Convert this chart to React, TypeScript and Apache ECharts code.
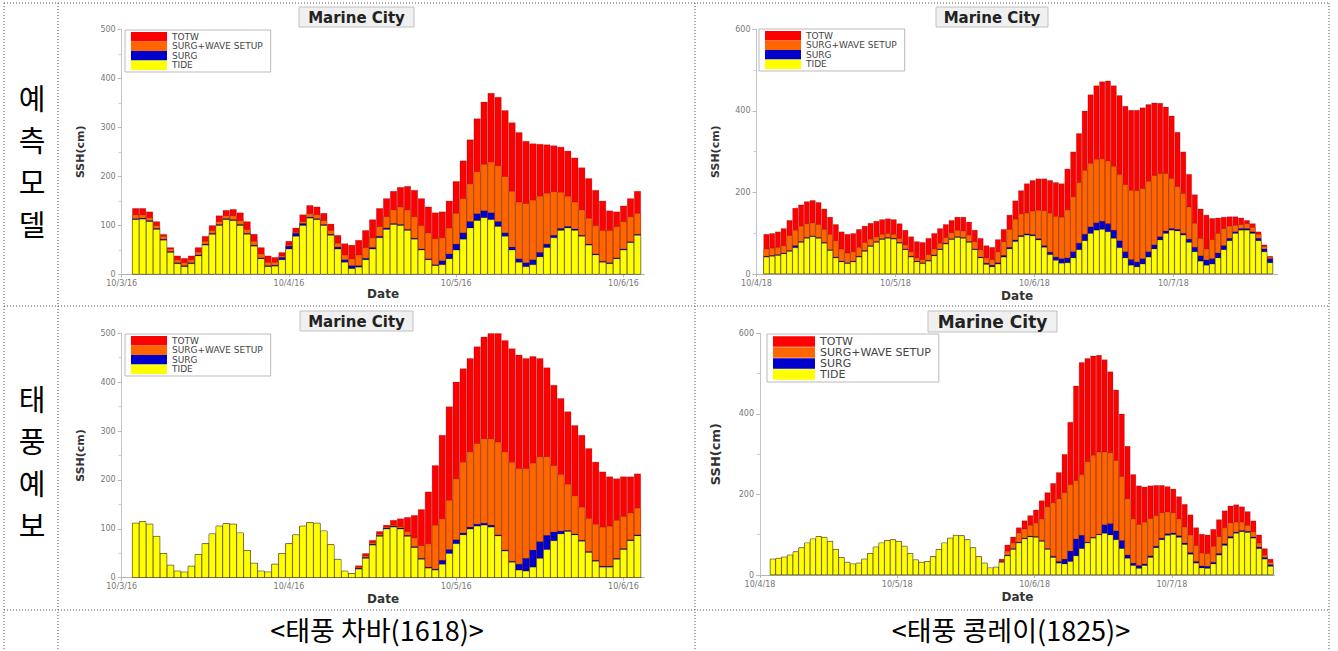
import { useEffect, useRef } from "react";
import * as echarts from "echarts";

const SERIES_NAMES = ["TOTW", "SURG+WAVE SETUP", "SURG", "TIDE"];
const SERIES_COLORS = ["#ff0000", "#ff6600", "#0000cc", "#ffff00"];

const DATES_CHABA = ["10/3/16", "10/4/16", "10/5/16", "10/6/16"];
const DATES_KONGREY = ["10/4/18", "10/5/18", "10/6/18", "10/7/18"];

const ROW_LABELS = ["예\n측\n모\n델", "태\n풍\n예\n보"];
const COL_LABELS = ["<태풍 차바(1618)>", "<태풍 콩레이(1825)>"];
const CHART_TITLE = "Marine City";
const Y_NAME = "SSH(cm)";
const X_NAME = "Date";

// ---- 예측모델 / 차바 (top-left), hourly bars ----
const chabaModelTide = [112,113,108,92,70,45,22,16,22,38, 60,82,100,112,110,100,82,58,32,16, 17,30,52,78,100,115,112,100,80,52, 25,12,15,30,52,75,92,102,100,90, 72,50,30,18,20,32,50,72,95,110, 116,112,98,78,50,25,16,20,36,55, 75,90,95,90,78,60,40,25,22,32, 50,65,80];
const chabaModelSurg = [114,115,110,94,72,47,24,18,24,40, 62,84,102,114,112,102,84,60,34,18, 19,35,58,84,104,117,114,102,82,56, 30,18,18,33,55,78,95,104,102,92, 74,52,32,20,28,42,62,85,108,124, 130,126,108,85,56,32,24,30,45,62, 80,94,98,93,80,62,42,27,24,34, 52,67,82];
const chabaModelSetup = [122,122,116,100,78,52,30,24,30,46, 68,90,108,120,120,110,92,68,42,25, 25,38,60,86,108,124,122,110,90,64, 40,32,40,55,75,98,118,132,138,132, 118,100,85,73,75,95,125,155,185,210, 225,230,222,200,170,148,145,152,160,166, 169,168,160,148,132,115,100,90,90,98, 108,118,125];
const chabaModelTotw = [135,135,128,108,82,55,38,33,38,55, 78,100,120,131,133,126,108,82,55,38, 35,45,68,95,122,141,138,125,103,80, 63,60,70,90,112,135,155,170,178,180, 172,155,138,126,128,150,190,232,275,318, 352,370,362,335,310,290,272,267,266,265, 263,260,252,238,218,196,172,150,130,128, 140,155,170];

// ---- 예측모델 / 콩레이 (top-right) ----
const kongreyModelTide = [42,44,46,50,56,65,78,88,92,88, 76,58,40,30,26,30,42,56,68,78, 85,88,86,76,60,42,30,26,32,45, 60,74,85,90,88,78,60,40,24,18, 25,42,62,80,92,96,94,84,66,48, 34,27,28,40,60,82,100,108,110,104, 88,65,40,22,18,25,42,62,84,100, 108,106,96,78,55,32,22,25,40,60, 82,100,108,108,100,82,55,28];
const kongreyModelSurg = [44,46,48,52,58,70,80,90,94,90, 78,60,42,32,28,32,44,58,70,80, 87,90,88,78,62,44,32,28,34,47, 62,76,87,92,90,80,62,42,27,22, 28,46,66,84,95,99,97,87,70,54, 42,38,40,55,76,98,116,126,130,124, 108,82,55,36,30,38,55,72,92,106, 112,110,100,86,66,45,35,38,52,70, 88,104,112,112,104,88,62,38];
const kongreyModelSetup = [62,64,66,70,95,108,118,124,126,122, 110,98,82,62,52,55,66,78,86,92, 98,100,98,88,72,55,40,36,48,62, 76,90,102,108,106,96,80,60,40,36, 55,80,110,135,148,150,155,157,156,150, 142,140,158,190,225,255,272,282,283,278, 265,245,220,206,205,210,228,242,247,247, 235,215,198,165,125,88,62,85,100,112, 118,120,122,124,115,98,68,42];
const kongreyModelTotw = [98,100,104,112,132,162,170,178,181,176, 160,140,122,104,98,100,110,118,125,130, 134,136,134,124,108,92,80,78,88,100, 112,122,132,140,140,128,108,88,70,66, 85,110,145,180,205,222,230,234,234,230, 225,222,258,300,345,400,440,462,472,474, 462,438,412,402,402,408,416,420,419,410, 388,348,300,245,195,160,145,137,138,140, 141,141,138,132,124,104,72,44];

// ---- 태풍예보 / 차바 (bottom-left) ----
const chabaFcstTide = [112,115,110,85,50,26,14,12,24,48, 70,90,106,111,110,92,56,30,14,12, 28,50,70,88,106,113,112,96,68,38, 14,9,18,40,67,85,100,104,100,85, 62,38,20,16,28,50,70,88,100,106, 108,104,86,55,32,16,14,22,40,58, 76,90,95,88,75,52,34,22,22,38, 58,76,86];
const chabaFcstSurg = [112,115,110,85,50,26,14,12,24,48, 70,90,106,111,110,92,56,30,14,12, 28,50,70,88,106,113,112,96,68,38, 14,9,20,42,69,87,102,106,102,87, 64,40,22,18,36,58,78,92,104,110, 112,108,88,57,34,28,40,57,74,87, 94,96,97,90,77,54,36,24,24,40, 60,78,88];
const chabaFcstSetup = [112,115,110,85,50,26,14,12,24,48, 70,90,106,111,110,92,56,30,14,12, 28,50,70,88,106,113,112,96,68,38, 14,9,22,45,72,90,104,108,105,95, 82,66,70,108,121,159,203,237,258,275, 285,285,278,258,237,224,224,235,248,248, 230,212,192,168,145,122,110,104,106,118, 126,133,143];
const chabaFcstTotw = [112,115,110,85,50,26,14,12,24,48, 70,90,106,111,110,92,56,30,14,12, 28,50,70,88,106,113,112,96,68,38, 14,9,25,50,77,95,108,118,121,124, 128,140,176,230,292,350,401,428,449,473, 493,500,500,486,469,456,449,453,449,430, 394,367,340,312,292,265,237,217,207,203, 207,207,213];

// ---- 태풍예보 / 콩레이 (bottom-right) ----
const kongreyFcstTide = [40,42,45,50,58,68,80,90,96,94, 84,64,44,32,28,30,40,54,70,80, 86,88,84,72,54,38,32,34,46,64, 80,92,99,98,88,68,46,30,18,20, 32,48,64,80,90,95,94,84,64,44, 30,28,34,48,66,80,92,100,104,100, 88,66,42,24,17,24,44,68,88,99, 101,94,76,52,30,18,17,28,50,74, 92,104,108,106,92,66,40,22];
const kongreyFcstSurg = [40,42,45,50,58,68,80,90,96,94, 84,64,44,32,28,30,40,54,70,80, 86,88,84,72,54,38,32,34,46,64, 80,92,99,98,88,68,46,30,18,20, 34,50,66,82,92,97,96,86,66,47, 34,40,60,90,99,82,94,102,125,128, 110,86,50,30,24,28,48,72,92,103, 105,98,80,56,34,23,22,32,54,78, 96,107,111,109,95,70,44,26];
const kongreyFcstSetup = [40,42,45,50,58,68,80,90,96,94, 84,64,44,32,28,30,40,54,70,80, 86,88,84,72,54,38,32,34,46,64, 80,92,99,98,88,68,46,30,18,20, 36,60,80,105,115,124,130,140,170,180, 190,205,225,235,250,282,298,306,306,304, 285,245,190,140,126,132,141,148,155,157, 155,140,120,100,74,55,54,72,96,118, 130,132,132,124,108,80,50,32];
const kongreyFcstTotw = [40,42,45,50,58,68,80,90,96,94, 84,64,44,32,28,30,40,54,70,80, 86,88,84,72,54,38,32,34,46,64, 80,92,99,98,88,68,46,30,18,20, 40,75,95,118,135,148,162,185,205,228, 255,300,380,470,528,538,544,546,535,505, 460,400,320,250,222,219,222,223,223,220, 214,195,176,150,118,102,100,114,138,160, 172,175,170,158,135,100,66,40];

type Panel = {
  data: number[][];
  dates: string[];
  yMax: number;
  yInterval: number;
  xMax: number;
  firstHour: number;
  hourPx: number;
  left: number;
  top: number;
  height: number;
  title: { x: number; y: number; w: number; h: number; fs: number };
  legend: { left: number; top: number; w: number; h: number; fs: number };
  yNameGap: number;
  yNameSize: number;
  xNameGap: number;
};

const panels: Panel[] = [
  {
    data: [chabaModelTotw, chabaModelSetup, chabaModelSurg, chabaModelTide],
    dates: DATES_CHABA, yMax: 500, yInterval: 100, xMax: 75, firstHour: 2, hourPx: 6.97,
    left: 121.7, top: 29.3, height: 245,
    title: { x: 299, y: 7, w: 115, h: 20, fs: 15 },
    legend: { left: 125, top: 30, w: 36, h: 9.5, fs: 9 },
    yNameGap: 36, yNameSize: 11, xNameGap: 14,
  },
  {
    data: [kongreyModelTotw, kongreyModelSetup, kongreyModelSurg, kongreyModelTide],
    dates: DATES_KONGREY, yMax: 600, yInterval: 200, xMax: 90, firstHour: 1.7, hourPx: 5.79,
    left: 756.5, top: 29.3, height: 244.7,
    title: { x: 936, y: 7, w: 112, h: 20, fs: 15 },
    legend: { left: 759, top: 29, w: 36, h: 9.5, fs: 9 },
    yNameGap: 36, yNameSize: 11, xNameGap: 16,
  },
  {
    data: [chabaFcstTotw, chabaFcstSetup, chabaFcstSurg, chabaFcstTide],
    dates: DATES_CHABA, yMax: 500, yInterval: 100, xMax: 75, firstHour: 2, hourPx: 6.97,
    left: 121.7, top: 333.3, height: 244.4,
    title: { x: 300, y: 311, w: 113, h: 20, fs: 15 },
    legend: { left: 125, top: 334, w: 36, h: 9.5, fs: 9 },
    yNameGap: 36, yNameSize: 11, xNameGap: 15,
  },
  {
    data: [kongreyFcstTotw, kongreyFcstSetup, kongreyFcstSurg, kongreyFcstTide],
    dates: DATES_KONGREY, yMax: 600, yInterval: 200, xMax: 90, firstHour: 2.25, hourPx: 5.72,
    left: 760, top: 333.3, height: 241.7,
    title: { x: 928, y: 311, w: 129, h: 21, fs: 17 },
    legend: { left: 767, top: 334, w: 42, h: 10.5, fs: 11 },
    yNameGap: 38, yNameSize: 13, xNameGap: 16,
  },
];

function buildOption() {
  const grid: any[] = [];
  const xAxis: any[] = [];
  const yAxis: any[] = [];
  const series: any[] = [];
  const legend: any[] = [];
  const graphic: any[] = [];

  panels.forEach((p, k) => {
    grid.push({
      left: p.left,
      top: p.top,
      width: p.xMax * p.hourPx,
      height: p.height,
      outerBoundsMode: "none",
    });
    xAxis.push({
      type: "value",
      gridIndex: k,
      min: 0,
      max: p.xMax,
      interval: 24,
      axisLine: { show: true, onZero: false, lineStyle: { color: "#b5b5b5", width: 1 } },
      axisTick: { show: true, length: 3, lineStyle: { color: "#b5b5b5" } },
      axisLabel: {
        fontSize: 8,
        color: "#777",
        margin: 5,
        showMaxLabel: false,
        formatter: (v: number) => (v % 24 === 0 && p.dates[v / 24] ? p.dates[v / 24] : ""),
      },
      splitLine: { show: false },
      name: X_NAME,
      nameLocation: "middle",
      nameGap: p.xNameGap,
      nameTextStyle: { fontSize: 12, fontWeight: "bold", color: "#333", fontFamily: "DejaVu Sans" },
    });
    yAxis.push({
      type: "value",
      gridIndex: k,
      min: 0,
      max: p.yMax,
      interval: p.yInterval,
      axisLine: { show: true, lineStyle: { color: "#c4c4d0", width: 1 } },
      axisTick: { show: true, length: 4, lineStyle: { color: "#bbb" } },
      minorTick: { show: true, splitNumber: 2, length: 3, lineStyle: { color: "#ccc" } },
      axisLabel: { fontSize: 8, color: "#777", margin: 6 },
      splitLine: { show: false },
      name: Y_NAME,
      nameLocation: "middle",
      nameRotate: 90,
      nameGap: p.yNameGap,
      nameTextStyle: { fontSize: p.yNameSize, fontWeight: "bold", color: "#333", fontFamily: "DejaVu Sans" },
    });
    p.data.forEach((arr, s) => {
      series.push({
        type: "bar",
        name: SERIES_NAMES[s],
        xAxisIndex: k,
        yAxisIndex: k,
        barWidth: p.hourPx,
        barGap: "-100%",
        silent: true,
        data: arr.map((v, i) => [p.firstHour + i, v]),
        itemStyle: { color: SERIES_COLORS[s], borderColor: "rgba(0,0,0,0.35)", borderWidth: 0.5 },
      });
    });
    legend.push({
      data: SERIES_NAMES,
      orient: "vertical",
      left: p.legend.left,
      top: p.legend.top,
      icon: "rect",
      itemWidth: p.legend.w,
      itemHeight: p.legend.h,
      itemGap: 0,
      padding: [2, 8, 2, 6],
      backgroundColor: "#fff",
      borderColor: "#aaa",
      borderWidth: 0.8,
      selectedMode: false,
      itemStyle: { borderWidth: 0 },
      textStyle: { fontSize: p.legend.fs, color: "#444", lineHeight: p.legend.h, fontFamily: "DejaVu Sans" },
    });
    graphic.push({
      type: "rect",
      silent: true,
      shape: { x: p.title.x, y: p.title.y, width: p.title.w, height: p.title.h },
      style: { fill: "#f0f0f0", stroke: "#c2c2c2", lineWidth: 1 },
    });
    graphic.push({
      type: "text",
      silent: true,
      x: p.title.x + p.title.w / 2,
      y: p.title.y + p.title.h / 2 + 0.5,
      style: {
        text: CHART_TITLE,
        fontSize: p.title.fs,
        fontWeight: "bold",
        fontFamily: "DejaVu Sans",
        fill: "#222",
        align: "center",
        verticalAlign: "middle",
      },
    });
  });

  // table (dotted lines)
  const dotted = { stroke: "#555", lineWidth: 1, lineDash: [1, 2] };
  const hLines = [3, 306, 610];
  const vLines = [4, 58, 695, 1329];
  hLines.forEach((y) =>
    graphic.push({ type: "line", silent: true, shape: { x1: 4, y1: y, x2: 1329, y2: y }, style: dotted })
  );
  vLines.forEach((x) =>
    graphic.push({ type: "line", silent: true, shape: { x1: x, y1: 3, x2: x, y2: 651 }, style: dotted })
  );

  // row labels
  const rowCenters = [160, 461];
  ROW_LABELS.forEach((t, r) =>
    graphic.push({
      type: "text",
      silent: true,
      x: 32,
      y: rowCenters[r],
      style: {
        text: t,
        fontSize: 29,
        lineHeight: 42,
        fontFamily: "Noto Sans CJK KR",
        fill: "#000",
        align: "center",
        verticalAlign: "middle",
      },
    })
  );
  // column captions
  const colCenters = [377, 1011];
  COL_LABELS.forEach((t, c) =>
    graphic.push({
      type: "text",
      silent: true,
      x: colCenters[c],
      y: 629,
      style: {
        text: t,
        fontSize: 27,
        fontFamily: "Noto Sans CJK KR",
        fill: "#000",
        align: "center",
        verticalAlign: "middle",
      },
    })
  );

  return {
    animation: false,
    backgroundColor: "#fff",
    textStyle: { fontFamily: "DejaVu Sans" },
    grid,
    xAxis,
    yAxis,
    series,
    legend,
    graphic,
  };
}

export default function App() {
  const ref = useRef<HTMLDivElement>(null);
  useEffect(() => {
    if (!ref.current) return;
    const chart = echarts.init(ref.current, null, { renderer: "svg" });
    chart.setOption(buildOption() as any);
    return () => chart.dispose();
  }, []);
  return (
    <div
      ref={ref}
      style={{ position: "absolute", left: 0, top: 0, width: 1338, height: 651, background: "#fff" }}
    />
  );
}
